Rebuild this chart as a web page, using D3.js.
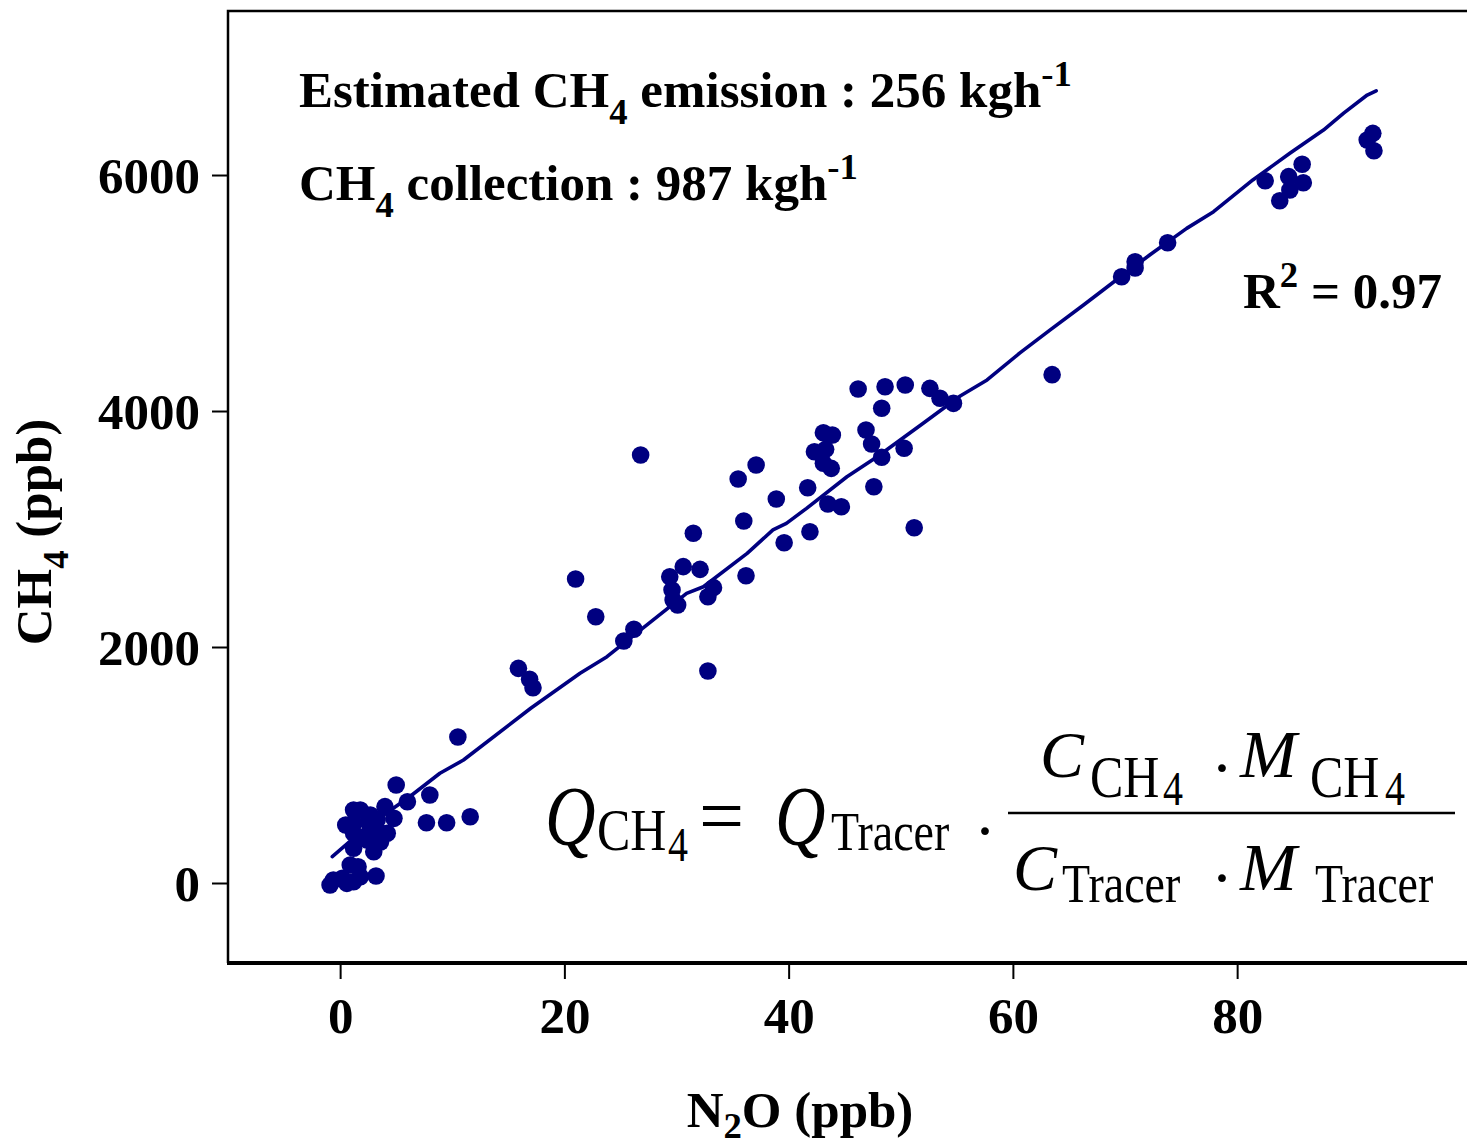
<!DOCTYPE html>
<html>
<head>
<meta charset="utf-8">
<script src="https://cdn.jsdelivr.net/npm/d3@7"></script>
<style>
  body { margin: 0; background: #fff; }
  svg { display: block; font-family: 'Liberation Serif', 'Times New Roman', serif; }
</style>
</head>
<body>
<div id="chart"></div>
<script>
'use strict';

// measured samples, N2O (ppb) vs CH4 (ppb)
const n2o = [
  -0.9, -0.6, 0.2, 0.6, 1.2, 1.8, 0.9, 1.6, 3.2, 1.2, 1.8, 4.0, 4.8, 1.2, 1.2, 2.1, 3.3,
  4.2, 3.3, 1.2, 3.0, 2.4, 5.0, 6.0, 8.0, 7.7, 9.5, 11.6, 10.5, 2.5, 2.7, 0.5, 3.6,
  15.9, 16.9, 17.2, 21.0, 22.8, 25.3, 26.2, 26.8, 29.4, 30.6, 32.1, 29.6, 29.7, 30.1,
  31.5, 33.3, 32.8, 32.8, 35.5, 37.1, 36.0, 36.2, 38.9, 39.6, 41.7, 41.9, 43.5, 44.7,
  43.1, 43.9, 42.3, 43.3, 43.1, 43.8, 46.2, 48.6, 50.4, 48.3, 46.9, 47.4, 48.3, 47.6,
  50.3, 51.2, 52.6, 53.5, 54.7, 63.5, 69.7, 70.9, 70.9, 73.8, 82.5, 84.6, 85.8, 85.9,
  84.7, 83.8, 91.6, 92.1, 92.2
];
const ch4 = [
  -17, 25, 40, -3, 11, 53, 153, 138, 59, 619, 619, 647, 548, 506, 421, 392, 449,
  421, 534, 294, 265, 364, 831, 689, 746, 511, 511, 562, 1237, 517, 576, 492, 347,
  1819, 1726, 1655, 2576, 2257, 2051, 2150, 3627, 2596, 2681, 2658, 2483, 2398, 2356,
  2964, 2503, 2426, 1797, 3424, 3542, 3068, 2604, 3254, 2884, 3350, 2977, 3212, 3189,
  3816, 3797, 3655, 3675, 3557, 3514, 4186, 4206, 4220, 4023, 3839, 3720, 3608, 3358,
  3684, 3011, 4192, 4108, 4065, 4308, 5138, 5265, 5212, 5426, 5951, 5986, 6091, 5935,
  5873, 5782, 6297, 6353, 6206
];

// fitted curve
const fitN2o = [-0.7, 2.4, 6.2, 8.9, 11.0, 17.0, 21.4, 23.8, 30.9, 32.4, 36.3, 38.6, 39.8,
  41.6, 45.2, 47.9, 52.0, 55.3, 57.7, 60.6, 63.3, 66.3, 69.6, 72.2, 75.5, 77.9, 81.4,
  84.7, 87.7, 89.5, 91.6, 92.4];
const fitCh4 = [223, 477, 731, 930, 1042, 1481, 1777, 1918, 2455, 2511, 2794, 2992, 3048,
  3175, 3443, 3613, 3896, 4127, 4263, 4490, 4686, 4898, 5138, 5322, 5548, 5689, 5958,
  6184, 6381, 6525, 6678, 6714];

const xTicks = [0, 20, 40, 60, 80];
const yTicks = [0, 2000, 4000, 6000];

class Chart {
  constructor(options) {
    this.element = options.element;
    this.width = options.width;
    this.height = options.height;
    this.box = options.box;
    this.color = options.color;
    this.dotRadius = options.dotRadius;
  }

  draw() {
    this.svg = d3.select(this.element).append('svg')
      .attr('width', this.width)
      .attr('height', this.height);
    this.createScales();
    this.drawAxes();
    this.drawFrame();
    this.drawFit();
    this.drawDots();
    this.drawLabels();
    this.drawFormula();
  }

  createScales() {
    this.x = d3.scaleLinear()
      .domain([-10, 100.5])
      .range([this.box.left, this.box.right]);
    this.y = d3.scaleLinear()
      .domain([-678, 7390])
      .range([this.box.bottom, this.box.top]);
  }

  drawAxes() {
    const yAxis = this.svg.append('g')
      .attr('transform', `translate(${this.box.left},0)`)
      .call(d3.axisLeft(this.y).tickValues(yTicks).tickSize(16).tickPadding(12)
        .tickFormat(d3.format('d')));
    const xAxis = this.svg.append('g')
      .attr('transform', `translate(0,${this.box.bottom})`)
      .call(d3.axisBottom(this.x).tickValues(xTicks).tickSize(16).tickPadding(18)
        .tickFormat(d3.format('d')));
    [xAxis, yAxis].forEach((a) => {
      a.select('.domain').remove();
      a.selectAll('line').attr('stroke', '#000').attr('stroke-width', 2);
      a.selectAll('text')
        .attr('fill', '#000')
        .style('font-family', "'Liberation Serif', serif")
        .style('font-weight', 'bold')
        .style('font-size', '51px');
    });
    yAxis.selectAll('text').attr('dy', '0.34em');
    xAxis.selectAll('text').attr('dy', '0.71em');
  }

  drawFrame() {
    const b = this.box;
    this.svg.append('path')
      .attr('d', `M${b.left},${b.bottom}V${b.top}H${b.right + 5}`)
      .attr('fill', 'none')
      .attr('stroke', '#000')
      .attr('stroke-width', 2.5);
    this.svg.append('line')
      .attr('x1', b.left - 1).attr('x2', b.right + 5)
      .attr('y1', b.bottom).attr('y2', b.bottom)
      .attr('stroke', '#000')
      .attr('stroke-width', 4);
  }

  drawFit() {
    const line = d3.line()
      .x((d) => this.x(d[0]))
      .y((d) => this.y(d[1]));
    this.svg.append('path')
      .datum(d3.zip(fitN2o, fitCh4))
      .attr('d', line)
      .attr('fill', 'none')
      .attr('stroke', this.color)
      .attr('stroke-width', 3.6)
      .attr('stroke-linejoin', 'round')
      .attr('stroke-linecap', 'round');
  }

  drawDots() {
    this.svg.append('g')
      .selectAll('circle')
      .data(d3.zip(n2o, ch4))
      .enter().append('circle')
        .attr('cx', (d) => this.x(d[0]))
        .attr('cy', (d) => this.y(d[1]))
        .attr('r', this.dotRadius)
        .attr('fill', this.color);
  }

  // text with a lowered or raised small part: parts = [[text, kind], ...]
  richText(g, parts, size, drop) {
    const down = size * (drop || 0.34);
    const t = g.append('text')
      .attr('fill', '#000')
      .style('font-weight', 'bold')
      .style('font-size', size + 'px');
    parts.forEach(([s, kind]) => {
      const span = t.append('tspan').text(s);
      if (kind === 'sub') {
        span.style('font-size', (size * 0.72) + 'px').attr('dy', down);
      } else if (kind === 'sup') {
        span.style('font-size', (size * 0.72) + 'px').attr('dy', -size * 0.42);
      } else if (kind === 'back-sub') {
        span.attr('dy', -down);
      } else if (kind === 'back-sup') {
        span.attr('dy', size * 0.42);
      }
    });
    return t;
  }

  drawLabels() {
    const g = this.svg.append('g');
    this.richText(g, [['Estimated CH'], ['4', 'sub'], [' emission : 256 kgh', 'back-sub'], ['-1', 'sup']], 51)
      .attr('x', 299).attr('y', 107);
    this.richText(g, [['CH'], ['4', 'sub'], [' collection : 987 kgh', 'back-sub'], ['-1', 'sup']], 51)
      .attr('x', 299).attr('y', 200);
    this.richText(g, [['R'], ['2', 'sup'], [' = 0.97', 'back-sup']], 51)
      .attr('x', 1243).attr('y', 308);
    this.richText(g, [['N'], ['2', 'sub'], ['O (ppb)', 'back-sub']], 51, 0.22)
      .attr('x', 800).attr('y', 1127).attr('text-anchor', 'middle');
    this.richText(g, [['CH'], ['4', 'sub'], [' (ppb)', 'back-sub']], 51)
      .attr('text-anchor', 'middle')
      .attr('transform', 'translate(51,532) rotate(-90)');
  }

  drawFormula() {
    const g = this.svg.append('g').attr('fill', '#000');
    // [text, x, baseline, size, italic, vertical stretch, anchor]
    const pieces = [
      ['Q', 545, 845, 70, true, 1.22], ['CH', 597, 850, 50, false, 1.2], ['4', 668, 861, 40, false, 1.2],
      ['=', 699, 843, 80, false, 1], ['Q', 775, 845, 70, true, 1.22], ['Tracer', 831, 850, 46, false, 1.2],
      ['\u00b7', 985, 853, 66, false, 1, 'middle'],
      ['C', 1040, 777, 66, true, 1], ['CH', 1090, 797, 50, false, 1.2], ['4', 1163, 805, 40, false, 1.2],
      ['\u00b7', 1222, 790, 66, false, 1, 'middle'],
      ['M', 1240, 777, 68, true, 1], ['CH', 1310, 797, 50, false, 1.2], ['4', 1385, 805, 40, false, 1.2],
      ['C', 1013, 890, 66, true, 1], ['Tracer', 1062, 902, 46, false, 1.2],
      ['\u00b7', 1222, 900, 66, false, 1, 'middle'],
      ['M', 1240, 890, 68, true, 1], ['Tracer', 1315, 902, 46, false, 1.2]
    ];
    g.selectAll('text')
      .data(pieces)
      .enter().append('text')
        .attr('transform', (d) => `translate(${d[1]},${d[2]}) scale(1,${d[5]})`)
        .attr('text-anchor', (d) => d[6] || 'start')
        .style('font-size', (d) => d[3] + 'px')
        .style('font-style', (d) => d[4] ? 'italic' : 'normal')
        .text((d) => d[0]);
    g.append('line')
      .attr('x1', 1008).attr('x2', 1455)
      .attr('y1', 813).attr('y2', 813)
      .attr('stroke', '#000')
      .attr('stroke-width', 2.5);
  }
}

const chart = new Chart({
  element: document.getElementById('chart'),
  width: 1467,
  height: 1148,
  box: { left: 228, right: 1467, top: 11, bottom: 963 },
  color: '#000080',
  dotRadius: 8.8
});
chart.draw();
</script>
</body>
</html>
